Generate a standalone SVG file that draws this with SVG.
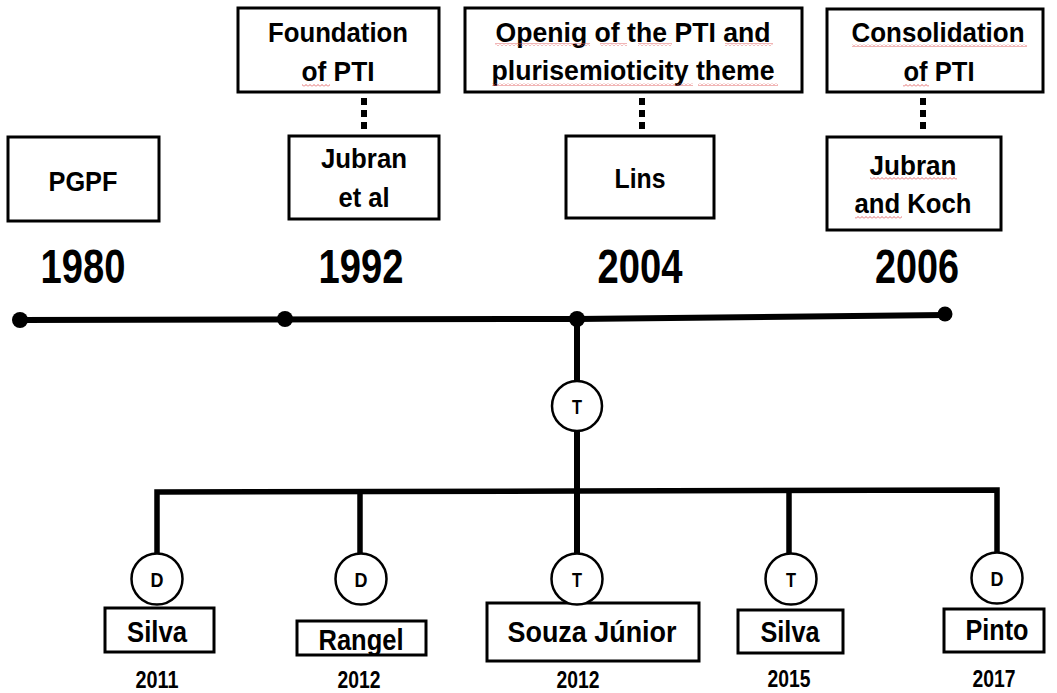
<svg xmlns="http://www.w3.org/2000/svg" width="1057" height="693" viewBox="0 0 1057 693">
<style>
text{font-family:"Liberation Sans",Arial,sans-serif;font-weight:bold;fill:#000;text-anchor:middle}
.box{fill:#fff;stroke:#000;stroke-width:3}
.circ{fill:#fff;stroke:#000;stroke-width:2.5}
.t28{font-size:28.5px}
.y48{font-size:49px}
.b28{font-size:29.5px}
.y23{font-size:23px}
.c20{font-size:21px}
.ln{stroke:#000;stroke-width:6;fill:none}
.dots{stroke:#000;stroke-width:6;stroke-dasharray:7 5;fill:none}
.sq{fill:url(#wave)}
</style>
<defs>
<pattern id="wave" width="4" height="3" patternUnits="userSpaceOnUse">
<path d="M0 2.5 L2 0.5 L4 2.5" fill="none" stroke="#e05a5a" stroke-width="0.9"/>
</pattern>
</defs>
<rect width="1057" height="693" fill="#fff"/>

<g id="connectors">
<polyline class="ln" points="20,320 577,319 945,315"/>
<circle cx="20" cy="320" r="8"/>
<circle cx="285" cy="319" r="8"/>
<circle cx="577" cy="319" r="8"/>
<circle cx="945" cy="314" r="7.5"/>
<line class="ln" x1="577" y1="319" x2="577" y2="381"/>
<line class="ln" x1="577" y1="431" x2="577" y2="554"/>
<polyline class="ln" style="stroke-width:5.5" points="157,554 157,492 577,491 997,490 997,553"/>
<line class="ln" style="stroke-width:5.5" x1="360" y1="492" x2="360" y2="554"/>
<line class="ln" style="stroke-width:5.5" x1="789" y1="491" x2="789" y2="554"/>
<line class="dots" x1="364" y1="98" x2="364" y2="129"/>
<line class="dots" x1="642" y1="98" x2="642" y2="129"/>
<line class="dots" x1="923" y1="98" x2="923" y2="129"/>
</g>

<g id="foundation">
<rect class="box" x="238" y="8" width="201" height="84"/>
<text class="t28" x="338" y="42" textLength="140" lengthAdjust="spacingAndGlyphs">Foundation</text>
<text class="t28" x="338" y="81" textLength="73" lengthAdjust="spacingAndGlyphs">of PTI</text>
<rect class="sq" x="302" y="84" width="28" height="3"/>
</g>
<g id="opening">
<rect class="box" x="465" y="8" width="337" height="84"/>
<text class="t28" x="633" y="42" textLength="275" lengthAdjust="spacingAndGlyphs">Openig of the PTI and</text>
<text class="t28" x="633" y="80" textLength="283" lengthAdjust="spacingAndGlyphs">plurisemioticity theme</text>
<rect class="sq" x="495" y="43" width="95" height="3"/>
<rect class="sq" x="600" y="43" width="27" height="3"/>
<rect class="sq" x="638" y="43" width="34" height="3"/>
<rect class="sq" x="725" y="43" width="48" height="3"/>
<rect class="sq" x="492" y="83" width="201" height="3"/>
<rect class="sq" x="698" y="83" width="80" height="3"/>
</g>
<g id="consolidation">
<rect class="box" x="827" y="9" width="216" height="83"/>
<text class="t28" x="938" y="42" textLength="173" lengthAdjust="spacingAndGlyphs">Consolidation</text>
<text class="t28" x="939" y="81" textLength="71" lengthAdjust="spacingAndGlyphs">of PTI</text>
<rect class="sq" x="852" y="44" width="175" height="3"/>
<rect class="sq" x="903" y="84" width="26" height="3"/>
</g>
<g id="pgpf">
<rect class="box" x="8" y="137" width="151" height="84"/>
<text class="t28" x="83" y="191" textLength="69" lengthAdjust="spacingAndGlyphs">PGPF</text>
</g>
<g id="jubran-et-al">
<rect class="box" x="289" y="136" width="150" height="83"/>
<text class="t28" x="364" y="168" textLength="86" lengthAdjust="spacingAndGlyphs">Jubran</text>
<text class="t28" x="364" y="207" textLength="51" lengthAdjust="spacingAndGlyphs">et al</text>
</g>
<g id="lins">
<rect class="box" x="566" y="136" width="148" height="82"/>
<text class="t28" x="640" y="188" textLength="51" lengthAdjust="spacingAndGlyphs">Lins</text>
</g>
<g id="jubran-koch">
<rect class="box" x="827" y="137" width="174" height="93"/>
<text class="t28" x="913" y="175" textLength="87" lengthAdjust="spacingAndGlyphs">Jubran</text>
<text class="t28" x="913" y="213" textLength="117" lengthAdjust="spacingAndGlyphs">and Koch</text>
<rect class="sq" x="870" y="177" width="87" height="3"/>
<rect class="sq" x="855" y="216" width="47" height="3"/>
</g>
<g id="years">
<text class="y48" x="83" y="283" textLength="85" lengthAdjust="spacingAndGlyphs">1980</text>
<text class="y48" x="361" y="283" textLength="85" lengthAdjust="spacingAndGlyphs">1992</text>
<text class="y48" x="640" y="283" textLength="85" lengthAdjust="spacingAndGlyphs">2004</text>
<text class="y48" x="917" y="283" textLength="84" lengthAdjust="spacingAndGlyphs">2006</text>
</g>
<g id="t-main">
<circle class="circ" cx="577" cy="406" r="25"/>
<text class="c20" x="577" y="414" textLength="10" lengthAdjust="spacingAndGlyphs">T</text>
</g>
<g id="silva-2011">
<circle class="circ" cx="157" cy="579" r="25.5"/>
<text class="c20" x="157" y="586.5" textLength="13" lengthAdjust="spacingAndGlyphs">D</text>
<rect class="box" x="105" y="608" width="109" height="44"/>
<text class="b28" x="157" y="642" textLength="60" lengthAdjust="spacingAndGlyphs">Silva</text>
<text class="y23" x="157" y="688" textLength="43" lengthAdjust="spacingAndGlyphs">2011</text>
</g>
<g id="rangel-2012">
<circle class="circ" cx="361" cy="579" r="25.5"/>
<text class="c20" x="361" y="586.5" textLength="13" lengthAdjust="spacingAndGlyphs">D</text>
<rect class="box" x="297" y="621" width="129" height="34"/>
<text class="b28" x="361" y="650" textLength="85" lengthAdjust="spacingAndGlyphs">Rangel</text>
<text class="y23" x="359" y="688" textLength="43" lengthAdjust="spacingAndGlyphs">2012</text>
</g>
<g id="souza-2012">
<rect class="box" x="487" y="603" width="212" height="58"/>
<circle class="circ" cx="577" cy="579" r="25.5"/>
<text class="c20" x="577" y="586.5" textLength="10" lengthAdjust="spacingAndGlyphs">T</text>
<text class="b28" x="592" y="642" textLength="169" lengthAdjust="spacingAndGlyphs">Souza Júnior</text>
<text class="y23" x="578" y="688" textLength="43" lengthAdjust="spacingAndGlyphs">2012</text>
</g>
<g id="silva-2015">
<circle class="circ" cx="791" cy="579" r="25.5"/>
<text class="c20" x="791" y="586.5" textLength="10" lengthAdjust="spacingAndGlyphs">T</text>
<rect class="box" x="738" y="610" width="105" height="43"/>
<text class="b28" x="790" y="642" textLength="59" lengthAdjust="spacingAndGlyphs">Silva</text>
<text class="y23" x="789" y="687" textLength="43" lengthAdjust="spacingAndGlyphs">2015</text>
</g>
<g id="pinto-2017">
<circle class="circ" cx="997" cy="578" r="25.5"/>
<text class="c20" x="997" y="585.5" textLength="13" lengthAdjust="spacingAndGlyphs">D</text>
<rect class="box" x="944" y="609" width="100" height="43"/>
<text class="b28" x="997" y="640" textLength="63" lengthAdjust="spacingAndGlyphs">Pinto</text>
<text class="y23" x="994" y="687" textLength="43" lengthAdjust="spacingAndGlyphs">2017</text>
</g>
</svg>
